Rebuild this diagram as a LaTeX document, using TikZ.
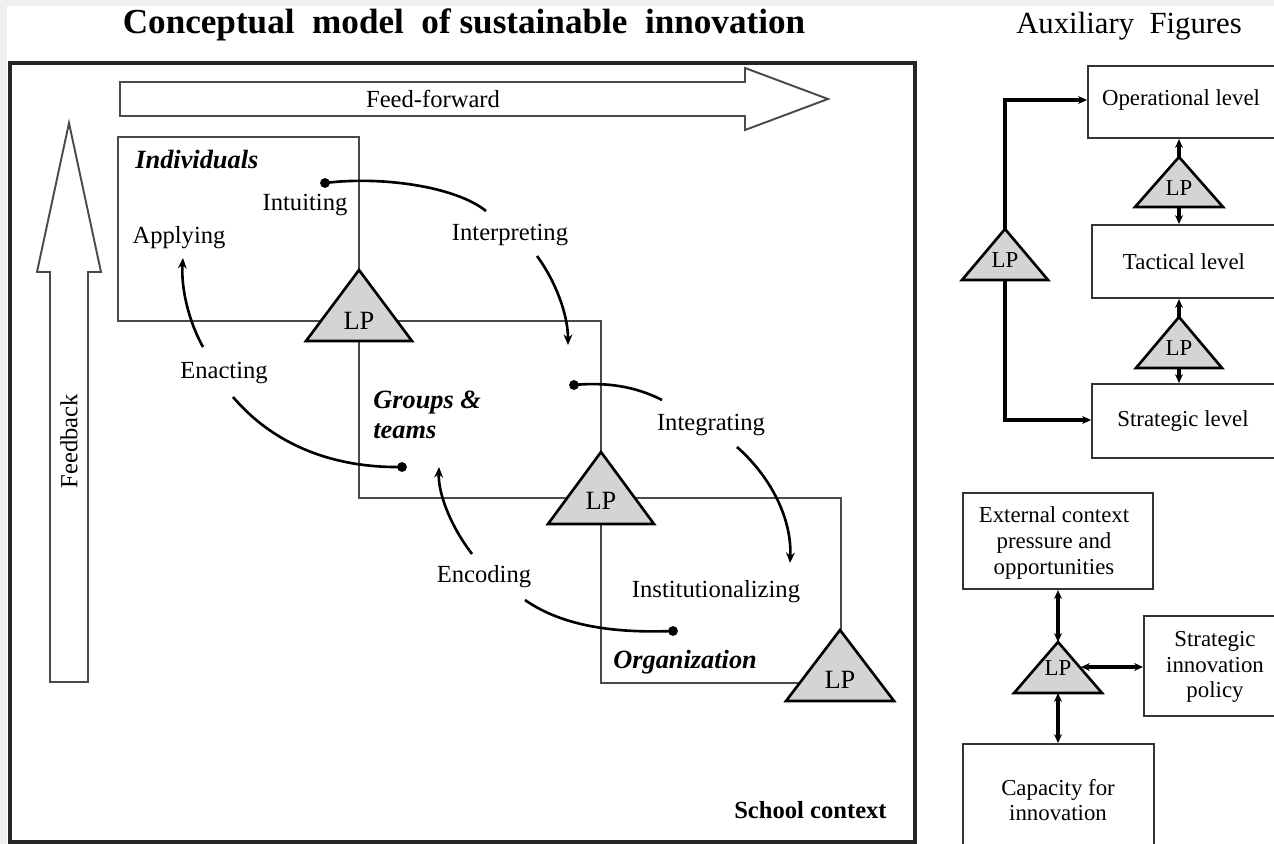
\documentclass[tikz,border=0pt]{standalone}
\usepackage{fontspec}
\setmainfont{Liberation Serif}
\usetikzlibrary{arrows.meta}
\definecolor{bggray}{HTML}{EFEFEF}
\definecolor{boxgray}{HTML}{4A4A4A}
\definecolor{trigray}{HTML}{D4D4D4}
\tikzset{
  lvlbox/.style={draw=boxgray, line width=1.1pt},
  auxbox/.style={draw=black!80, line width=1.2pt},
  bigarrow/.style={draw=boxgray, line width=1.1pt, fill=white},
  tri/.style={draw=black, line width=1.5pt, fill=trigray, line join=miter},
  lbl/.style={font=\fontsize{14}{16}\selectfont, inner sep=0pt},
  lvltitle/.style={font=\fontsize{15}{17}\selectfont\bfseries\itshape, inner sep=0pt},
  auxtext/.style={font=\fontsize{13}{14.6}\selectfont, inner sep=0pt, align=center},
  curve/.style={draw=black, line width=1.5pt},
  curvetip/.style={curve, -{Stealth[length=6pt,width=5pt]}},
  auxline/.style={draw=black, line width=1.8pt},
  auxtip/.style={auxline, -{Stealth[length=5pt,width=4.5pt]}},
  auxboth/.style={auxline, {Stealth[length=5pt,width=4.5pt]}-{Stealth[length=5pt,width=4.5pt]}},
}
% name, apex x, apex y, half width, height, label offset, font size
\newcommand{\lptri}[7]{%
  \filldraw[tri] (#2,#3) -- (#2+#4,#3+#5) -- (#2-#4,#3+#5) -- cycle;
  \coordinate (#1-apex) at (#2,#3);
  \coordinate (#1-base) at (#2,#3+#5);
  \node[inner sep=0pt, font=\fontsize{#7}{#7}\selectfont] (#1) at (#2,#3+#6) {LP};
}
\begin{document}
\begin{tikzpicture}[x=0.02cm,y=-0.02cm]
\useasboundingbox (0,0) rectangle (1274,844);
\fill[white] (0,0) rectangle (1274,844);
\fill[bggray] (0,0) rectangle (1274,6);
\fill[bggray] (0,0) rectangle (7,844);

% titles
\node[inner sep=0pt, font=\fontsize{20}{23}\selectfont\bfseries] (title) at (464,25) {Conceptual\ \ model\ \ of sustainable\ \ innovation};
\node[inner sep=0pt, font=\fontsize{17.5}{20}\selectfont] (auxtitle) at (1129,26) {Auxiliary\ \ Figures};

% main frame
\draw[fill=white, line width=1.8pt, draw=black!85] (10,63) rectangle (915,842);

% feed-forward and feedback arrows
\draw[bigarrow] (120,82) -- (745,82) -- (745,68) -- (828,99) -- (745,130) -- (745,116) -- (120,116) -- cycle;
\node[lbl] (ff) at (433,99) {Feed-forward};
\draw[bigarrow] (50,682) -- (50,272) -- (37,272) -- (69,123) -- (101,272) -- (88,272) -- (88,682) -- cycle;
\node[lbl, rotate=90] (fb) at (69,441) {Feedback};

% level boxes
\draw[lvlbox] (118,137) rectangle (359,321);
\draw[lvlbox] (359,321) rectangle (601,498);
\draw[lvlbox] (601,498) rectangle (841,683);

\node[lvltitle, anchor=west] (indiv) at (135,160) {Individuals};
\node[lvltitle, anchor=north west, align=left] (groups) at (373,391) {Groups \&\\teams};
\node[lvltitle, anchor=west] (org) at (613,662) {Organization};
\node[inner sep=0pt, font=\fontsize{14}{16}\selectfont\bfseries, anchor=east] (school) at (887,810) {School context};

% LP triangles
\lptri{t1}{359}{270}{53}{71}{51}{15}
\lptri{t2}{601}{452}{53}{72}{49}{15}
\lptri{t3}{840}{630}{54}{71}{50}{15}

% process labels
\node[lbl] (intuiting) at (305,205) {Intuiting};
\node[lbl] (applying) at (179,238) {Applying};
\node[lbl] (interpreting) at (510,235) {Interpreting};
\node[lbl] (enacting) at (224,373) {Enacting};
\node[lbl] (integrating) at (711,425) {Integrating};
\node[lbl] (institut) at (716,592) {Institutionalizing};
\node[lbl] (encoding) at (484,577) {Encoding};

% curve end points
\coordinate (c1s) at (486,211); \coordinate (c1e) at (325,183);
\coordinate (c2s) at (537,256); \coordinate (c2e) at (568,345);
\coordinate (c3s) at (662,400); \coordinate (c3e) at (574,385);
\coordinate (c4s) at (737,447); \coordinate (c4e) at (790,563);
\coordinate (c5s) at (525,600); \coordinate (c5e) at (673,631);
\coordinate (c6s) at (472,554); \coordinate (c6e) at (439,467);
\coordinate (c7s) at (233,397); \coordinate (c7e) at (402,467);
\coordinate (c8s) at (203,347); \coordinate (c8e) at (183,258);

\draw[curve] (c1s) .. controls (455,186) and (380,176) .. (c1e);
\fill (c1e) circle (2.8pt);
\draw[curvetip] (c2s) .. controls (556,282) and (568,315) .. (c2e);
\draw[curve] (c3s) .. controls (635,386) and (605,382) .. (c3e);
\fill (c3e) circle (2.8pt);
\draw[curvetip] (c4s) .. controls (772,478) and (792,520) .. (c4e);
\draw[curve] (c5s) .. controls (565,628) and (620,633) .. (c5e);
\fill (c5e) circle (2.8pt);
\draw[curvetip] (c6s) .. controls (452,528) and (438,495) .. (c6e);
\draw[curve] (c7s) .. controls (280,452) and (345,468) .. (c7e);
\fill (c7e) circle (2.8pt);
\draw[curvetip] (c8s) .. controls (187,318) and (181,285) .. (c8e);

% ===== auxiliary figure 1 =====
\node[auxbox, fill=white, minimum width=193*0.02cm, minimum height=72*0.02cm, anchor=north west, inner sep=0pt] (oper) at (1087,65) {};
\node[auxbox, fill=white, minimum width=189*0.02cm, minimum height=73*0.02cm, anchor=north west, inner sep=0pt] (tact) at (1091,224) {};
\node[auxbox, fill=white, minimum width=189*0.02cm, minimum height=74*0.02cm, anchor=north west, inner sep=0pt] (strat) at (1091,383) {};
\node[auxtext] (opertxt) at (1181,100) {Operational level};
\node[auxtext] (tacttxt) at (1184,262) {Tactical level};
\node[auxtext] (strattxt) at (1183,421) {Strategic level};

\lptri{a1}{1005}{229}{43}{51}{31}{13}
\lptri{a2}{1179}{157}{44}{50}{31}{13}
\lptri{a3}{1179}{317}{43}{51}{31}{13}

\coordinate (a1top) at (1005,100);
\coordinate (a1bot) at (1005,420);
\draw[auxtip] (a1-apex) -- (a1top) -- (oper.west |- a1top);
\draw[auxtip] (a1-base) -- (a1bot) -- (strat.west |- a1bot);
\draw[auxtip] (a2-apex) -- (a2-apex |- oper.south);
\draw[auxtip] (a2-base) -- (a2-base |- tact.north);
\draw[auxtip] (a3-apex) -- (a3-apex |- tact.south);
\draw[auxtip] (a3-base) -- (a3-base |- strat.north);

% ===== auxiliary figure 2 =====
\node[auxbox, fill=white, minimum width=190*0.02cm, minimum height=96*0.02cm, anchor=north west, inner sep=0pt] (ext) at (962,492) {};
\node[auxtext] (exttxt) at (1054,543) {External context\\pressure and\\opportunities};
\node[auxbox, fill=white, minimum width=137*0.02cm, minimum height=100*0.02cm, anchor=north west, inner sep=0pt] (sip) at (1143,615) {};
\node[auxtext] (siptxt) at (1215,667) {Strategic\\innovation\\policy};
\node[auxbox, fill=white, minimum width=191*0.02cm, minimum height=110*0.02cm, anchor=north west, inner sep=0pt] (cap) at (962,743) {};
\node[auxtext] (captxt) at (1058,800) {Capacity for\\innovation};

\lptri{b1}{1058}{642}{44}{51}{26}{13}
\coordinate (b1r) at (1081,667);
\draw[auxboth] (ext.south -| b1-apex) -- (b1-apex);
\draw[auxboth] (b1-base) -- (cap.north -| b1-base);
\draw[auxboth] (b1r) -- (sip.west |- b1r);
\end{tikzpicture}
\end{document}
